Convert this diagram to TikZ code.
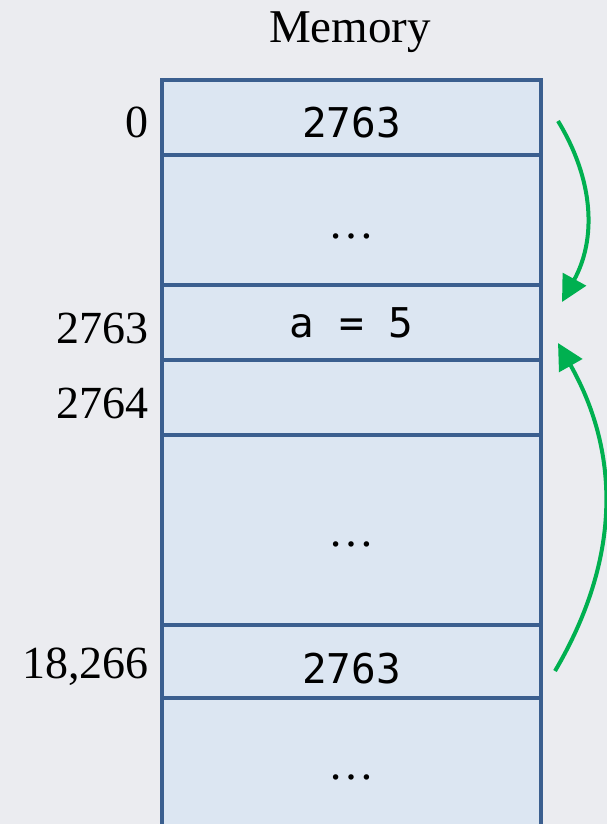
\documentclass[tikz,border=0pt]{standalone}
\usepackage{fontspec}
\setmainfont{Liberation Serif}
\newfontfamily\cellfont{DejaVu Sans Mono}
\usetikzlibrary{arrows.meta,calc}
\definecolor{membg}{HTML}{EBECF0}
\definecolor{memline}{HTML}{3B5F8F}
\definecolor{memfill}{HTML}{DCE6F2}
\definecolor{ptrgreen}{HTML}{00B050}
\newcommand\memdots{{\rmfamily\fontsize{46}{54}\selectfont \ldots}}
\tikzset{
    memcell/.style={draw=memline, fill=memfill, line width=4pt, minimum width=379pt, inner sep=0pt,
        text height=41pt, text depth=0pt, font=\cellfont\fontsize{41}{49}\selectfont},
    addr/.style={anchor=base east, inner sep=0pt, font=\fontsize{46}{54}\selectfont},
    pointer/.style={draw=ptrgreen, line width=4pt, -{Triangle[length=26pt,width=26pt]}}
}

\begin{document}
\begin{tikzpicture}[x=1pt, y=-1pt]
\useasboundingbox (0,0) rectangle (607,824);
\fill[membg] (0,0) rectangle (607,824);
\clip (0,0) rectangle (607,824);

\node[anchor=base, inner sep=0pt, font=\fontsize{47}{56}\selectfont] (title) at (350,43) {Memory};

% memory cells, top to bottom
\node[memcell, minimum height=75pt]  (c0) at (351.5,117.5) {2763};
\node[memcell, minimum height=130pt, text height=36pt] (c1) at (351.5,220) {\memdots};
\node[memcell, minimum height=75pt, text height=29pt]  (c2) at (351.5,322.5) {a = 5};
\node[memcell, minimum height=75pt]  (c3) at (351.5,397.5) {};
\node[memcell, minimum height=190pt, text height=32pt] (c4) at (351.5,530) {\memdots};
\node[memcell, minimum height=73pt, text height=43pt]  (c5) at (351.5,661.5) {2763};
\node[memcell, minimum height=162pt, text height=1pt] (c6) at (351.5,779) {\memdots};

% addresses
\node[addr] (a0) at (149,138) {0};
\node[addr] (a1) at (149,343) {2763};
\node[addr] (a2) at (149,418) {2764};
\node[addr] (a3) at (149,678) {18,266};

% pointers
\coordinate (fromtop) at ($(c0.east)+(15,3.5)$);
\coordinate (totop) at ($(c2.north east)+(19,19)$);
\coordinate (frombot) at ($(c5.east)+(12,9.5)$);
\coordinate (tobot) at ($(c2.south east)+(15,-19)$);
\draw[pointer] (fromtop) to[bend left=30] (totop);
\draw[pointer] (frombot) to[bend right=30] (tobot);

\end{tikzpicture}
\end{document}
